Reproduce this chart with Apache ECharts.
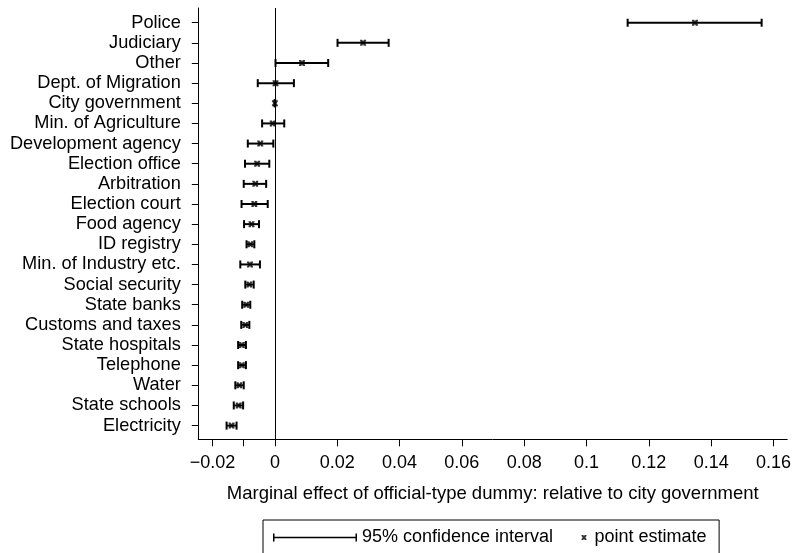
<!DOCTYPE html>
<html>
<head>
<meta charset="utf-8">
<script src="https://cdn.jsdelivr.net/npm/echarts@6/dist/echarts.min.js"></script>
<style>html,body{margin:0;padding:0;background:#fff;}#c{width:794px;height:553px;}</style>
</head>
<body>
<div id="c"></div>
<script>
const categories = ['Police','Judiciary','Other','Dept. of Migration','City government','Min. of Agriculture','Development agency','Election office','Arbitration','Election court','Food agency','ID registry','Min. of Industry etc.','Social security','State banks','Customs and taxes','State hospitals','Telephone','Water','State schools','Electricity'];
const pointEstimate = [0.1348,0.0283,0.0087,0.0002,0.0000,-0.0007,-0.0047,-0.0057,-0.0063,-0.0066,-0.0075,-0.0079,-0.0080,-0.0082,-0.0092,-0.0095,-0.0106,-0.0106,-0.0114,-0.0116,-0.0139];
const ciLow = [0.1132,0.0201,0.0002,-0.0055,-0.0001,-0.0041,-0.0087,-0.0096,-0.0100,-0.0107,-0.0099,-0.0091,-0.0111,-0.0095,-0.0105,-0.0108,-0.0118,-0.0118,-0.0127,-0.0132,-0.0155];
const ciHigh = [0.1562,0.0365,0.0171,0.0061,0.0001,0.0030,-0.0005,-0.0018,-0.0028,-0.0023,-0.0051,-0.0066,-0.0048,-0.0068,-0.0079,-0.0082,-0.0093,-0.0093,-0.0100,-0.0102,-0.0123];
const xTickValues = [-0.02,-0.01,0,0.02,0.04,0.06,0.08,0.1,0.12,0.14,0.16];
const xLabelValues = [-0.02,0,0.02,0.04,0.06,0.08,0.1,0.12,0.14,0.16];
const xLabelTexts = ['\u22120.02','0','0.02','0.04','0.06','0.08','0.1','0.12','0.14','0.16'];
const xTitle = 'Marginal effect of official-type dummy: relative to city government';
const ciName = '95% confidence interval';
const ptName = 'point estimate';

const FONT = "'Liberation Sans', Arial, Helvetica, sans-serif";
const catIdx = categories.map((_, i) => i);
const ciData = catIdx.map(i => [i, ciLow[i], ciHigh[i]]);
const ptData = catIdx.map(i => [pointEstimate[i], i]);
const X_PATH = 'path://M0,0H2.2L3,1.6L3.8,0H6V1.2L4.6,3L6,4.8V6H3.8L3,4.4L2.2,6H0V4.8L1.4,3L0,1.2Z';
const CI_PATH = 'path://M0,0H1.5V3.25H82.5V0H84V8H82.5V4.75H1.5V8H0Z';

const chart = echarts.init(document.getElementById('c'), null, {renderer: 'canvas'});
chart.setOption({
  animation: false,
  backgroundColor: '#fff',
  textStyle: {fontFamily: FONT, color: '#000'},
  grid: {left: 198.3, right: 6, top: 8, bottom: 113.7, containLabel: false},
  xAxis: {
    type: 'value', min: -0.02458, max: 0.1644,
    axisLine: {show: true, onZero: false, lineStyle: {color: '#000', width: 1}},
    axisTick: {show: true, inside: false, length: 7, lineStyle: {color: '#000', width: 1}, customValues: xTickValues},
    axisLabel: {show: true, color: '#000', fontSize: 18, fontFamily: FONT, margin: 14.5,
      customValues: xLabelValues,
      formatter: v => { const k = xLabelValues.findIndex(t => Math.abs(t - v) < 1e-9); return k >= 0 ? xLabelTexts[k] : ''; }},
    splitLine: {show: false},
    name: xTitle, nameLocation: 'middle', nameGap: 45,
    nameTextStyle: {color: '#000', fontSize: 18.5, fontFamily: FONT}
  },
  yAxis: {
    type: 'value', inverse: true, min: -0.73, max: 20.68,
    axisLine: {show: true, onZero: false, lineStyle: {color: '#000', width: 1}},
    axisTick: {show: true, inside: false, length: 6.5, lineStyle: {color: '#000', width: 1}, customValues: catIdx},
    axisLabel: {show: true, color: '#000', fontSize: 18.2, fontFamily: FONT, margin: 17.5,
      customValues: catIdx, formatter: v => categories[Math.round(v)] || ''},
    splitLine: {show: false}
  },
  legend: [
    {
      left: 263, top: 520, orient: 'horizontal',
      padding: [8.5, 166, 8, 10],
      borderColor: '#000', borderWidth: 1,
      itemWidth: 84, itemHeight: 8, selectedMode: false,
      textStyle: {color: '#000', fontSize: 18, fontFamily: FONT},
      data: [{name: ciName, icon: CI_PATH, itemStyle: {color: '#000'}}]
    },
    {
      left: 581.5, top: 528.5, orient: 'horizontal', padding: 0,
      itemWidth: 5, itemHeight: 5, selectedMode: false,
      textStyle: {color: '#000', fontSize: 18, fontFamily: FONT, padding: [0, 0, 0, 3]},
      data: [{name: ptName, icon: X_PATH, itemStyle: {color: '#000'}}]
    }
  ],
  series: [
    {
      name: ciName, type: 'custom', data: ciData,
      encode: {x: [1, 2], y: 0},
      itemStyle: {color: '#000'},
      silent: true,
      renderItem: (params, api) => {
        const idx = api.value(0);
        const lo = api.coord([api.value(1), idx]);
        const hi = api.coord([api.value(2), idx]);
        const h = 4;
        const st = {stroke: '#000', lineWidth: 2};
        return {type: 'group', children: [
          {type: 'line', shape: {x1: lo[0], y1: lo[1], x2: hi[0], y2: hi[1]}, style: st},
          {type: 'line', shape: {x1: lo[0], y1: lo[1] - h, x2: lo[0], y2: lo[1] + h}, style: st},
          {type: 'line', shape: {x1: hi[0], y1: hi[1] - h, x2: hi[0], y2: hi[1] + h}, style: st}
        ]};
      }
    },
    {
      name: ptName, type: 'scatter', data: ptData,
      symbol: X_PATH, symbolSize: 6,
      itemStyle: {color: '#000'}, silent: true, z: 3,
      markLine: {
        silent: true, symbol: 'none', animation: false,
        label: {show: false},
        lineStyle: {color: '#000', width: 1, type: 'solid'},
        data: [{xAxis: 0}]
      }
    }
  ]
});
</script>
</body>
</html>
